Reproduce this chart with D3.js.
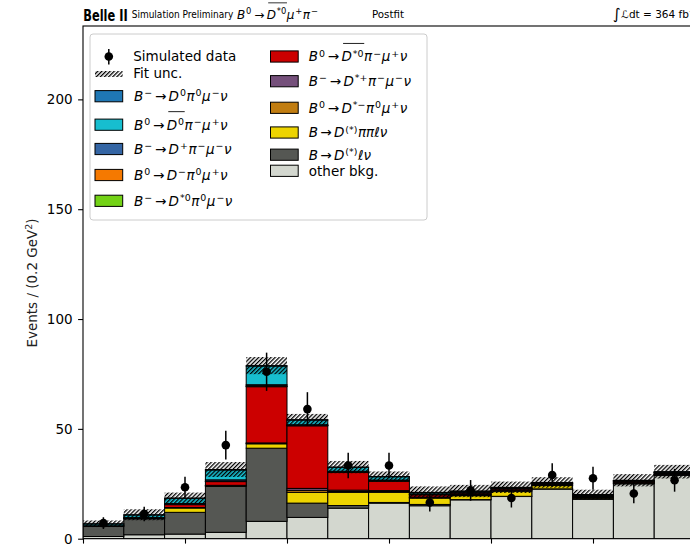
<!DOCTYPE html>
<html><head><meta charset="utf-8">
<script src="https://cdn.jsdelivr.net/npm/d3@7/dist/d3.min.js"></script>
<style>
body{margin:0;background:#fff}
svg{display:block}
text{font-family:"DejaVu Sans",sans-serif}
</style>
</head><body>
<svg id="c" width="690" height="544"></svg>
<script>
// ---------------- data ----------------
const binEdges = [0.0,0.2,0.4,0.6,0.8,1.0,1.2,1.4,1.6,1.8,2.0,2.2,2.4,2.6,2.8,3.0];
const yTicks = [0, 50, 100, 150, 200];
const xTicks = [0.0, 0.5, 1.0, 1.5, 2.0, 2.5, 3.0];

// stacked components, bottom to top
const otherBkg   = [1.0, 1.8, 2.1, 2.9, 7.9, 9.7, 13.9, 16.2, 15.0, 17.7, 19.2, 22.6, 18.0, 25.0, 28.9];
const dlnu       = [4.6, 7.3, 9.9, 20.9, 33.3, 6.5, 1.2, 0.3, 0.6, 0.1, 0.1, 0.1, 0.1, 0.1, 0.1];
const dpipilnu   = [0.0, 0.1, 2.0, 0.3, 2.0, 4.9, 6.0, 4.6, 2.9, 1.8, 2.3, 1.5, 0.5, 0.2, 0.2];
const dstmPi0    = [0.0, 0.0, 0.1, 0.1, 0.2, 0.9, 0.4, 0.4, 0.2, 0.3, 0.3, 0.2, 0.4, 0.2, 0.2];
const dstpPim    = [0.0, 0.0, 0.1, 0.1, 0.2, 0.9, 0.6, 0.4, 0.2, 0.2, 0.2, 0.2, 0.2, 0.2, 0.2];
const dst0barPim = [0.2, 0.3, 1.3, 1.7, 25.6, 28.5, 8.1, 4.3, 1.1, 0.7, 0.6, 0.4, 0.4, 0.4, 0.4];
const dst0Pi0    = [0.0, 0.0, 0.1, 0.1, 0.2, 0.1, 0.1, 0.1, 0.1, 0.1, 0.1, 0.1, 0.1, 0.1, 0.1];
const dmPi0      = [0.0, 0.0, 0.1, 0.1, 0.2, 0.1, 0.1, 0.1, 0.1, 0.1, 0.1, 0.1, 0.1, 0.1, 0.1];
const dpPim      = [0.1, 0.1, 0.3, 0.6, 0.5, 0.3, 0.3, 0.3, 0.2, 0.2, 0.2, 0.2, 0.1, 0.1, 0.1];
const d0barPim   = [0.8, 1.2, 2.4, 4.5, 8.5, 2.1, 1.8, 1.5, 0.6, 0.4, 0.2, 0.1, 0.1, 0.1, 0.1];
const d0Pi0      = [0.1, 0.1, 0.1, 0.2, 0.2, 0.2, 0.1, 0.1, 0.1, 0.1, 0.1, 0.1, 0.1, 0.1, 0.1];

const fitUnc  = [1.5, 2.5, 2.5, 3.4, 3.9, 2.6, 2.8, 2.3, 2.7, 2.8, 2.6, 2.4, 2.2, 2.8, 3.1];
const simData = [7.1, 11.2, 23.4, 42.6, 76.0, 59.0, 33.3, 33.3, 16.5, 22.0, 18.5, 29.0, 27.5, 20.6, 26.6];
const simErr  = [2.7, 3.3, 4.8, 6.5, 8.7, 7.7, 5.8, 5.8, 4.1, 4.7, 4.3, 5.4, 5.2, 4.5, 5.2];

const compKeys   = ["otherBkg","dlnu","dpipilnu","dstmPi0","dstpPim","dst0barPim","dst0Pi0","dmPi0","dpPim","d0barPim","d0Pi0"];
const compValues = [otherBkg, dlnu, dpipilnu, dstmPi0, dstpPim, dst0barPim, dst0Pi0, dmPi0, dpPim, d0barPim, d0Pi0];
const compColors = ["#d3d7cf","#555753","#edd400","#c17d11","#75507b","#cc0000","#73d216","#f57900","#3465a4","#17becf","#1f77b4"];
const compLabels = ["other bkg.","B→D^{(*)}ℓν","B→D^{(*)}ππℓν","B^{0}→D^{*−}π^{0}μ^{+}ν","B^{−}→D^{*+}π^{−}μ^{−}ν",
  "B^{0}→~{D^{*0}}π^{−}μ^{+}ν","B^{−}→D^{*0}π^{0}μ^{−}ν","B^{0}→D^{−}π^{0}μ^{+}ν","B^{−}→D^{+}π^{−}μ^{−}ν",
  "B^{0}→~{D^{0}}π^{−}μ^{+}ν","B^{−}→D^{0}π^{0}μ^{−}ν"];

// ---------------- layout ----------------
const svg = d3.select("#c");
const L = 83, R = 695, T = 26, B = 538.7;
const x = d3.scaleLinear().domain([binEdges[0], binEdges[binEdges.length-1]]).range([L, R]);
const y = d3.scaleLinear().domain([0, 233.4]).range([B, T]);

const defs = svg.append("defs");
defs.append("clipPath").attr("id","clip").append("rect").attr("x",L).attr("y",T).attr("width",R-L).attr("height",B-T);
const pat = defs.append("pattern").attr("id","hatch").attr("patternUnits","userSpaceOnUse")
  .attr("width",2.9).attr("height",2.9).attr("patternTransform","rotate(45)");
pat.append("rect").attr("x",0).attr("y",0).attr("width",1.3).attr("height",2.9).attr("fill","#000");

// stack table
const table = simData.map((_, i) => {
  const row = {i};
  compKeys.forEach((k, j) => row[k] = compValues[j][i]);
  return row;
});
const series = d3.stack().keys(compKeys)(table);
const totals = table.map(r => compKeys.reduce((s,k)=>s+r[k],0));

const plot = svg.append("g").attr("clip-path","url(#clip)");
series.forEach((s, j) => {
  plot.append("g").selectAll("rect").data(s).join("rect")
    .attr("x", d => x(binEdges[d.data.i]))
    .attr("width", d => x(binEdges[d.data.i+1]) - x(binEdges[d.data.i]))
    .attr("y", d => y(d[1]))
    .attr("height", d => Math.max(0, y(d[0]) - y(d[1])))
    .attr("fill", compColors[j])
    .attr("stroke", "#000").attr("stroke-width", 1);
});

// fit uncertainty hatch
plot.append("g").selectAll("rect").data(totals).join("rect")
  .attr("x", (d,i) => x(binEdges[i]))
  .attr("width", (d,i) => x(binEdges[i+1]) - x(binEdges[i]))
  .attr("y", (d,i) => y(d + fitUnc[i]))
  .attr("height", (d,i) => y(d - fitUnc[i]) - y(d + fitUnc[i]))
  .attr("fill", "url(#hatch)");

// simulated data
const dg = plot.append("g");
dg.selectAll("line").data(simData).join("line")
  .attr("x1", (d,i) => x((binEdges[i]+binEdges[i+1])/2))
  .attr("x2", (d,i) => x((binEdges[i]+binEdges[i+1])/2))
  .attr("y1", (d,i) => y(d - simErr[i]))
  .attr("y2", (d,i) => y(d + simErr[i]))
  .attr("stroke","#000").attr("stroke-width",1.5);
dg.selectAll("circle").data(simData).join("circle")
  .attr("cx", (d,i) => x((binEdges[i]+binEdges[i+1])/2))
  .attr("cy", d => y(d))
  .attr("r", 4.3).attr("fill","#000");

// axes
const yAxis = svg.append("g").attr("transform",`translate(${L},0)`)
  .call(d3.axisLeft(y).tickValues(yTicks).tickSize(4.9).tickPadding(5.5).tickFormat(d3.format("d")));
yAxis.select(".domain").remove();
yAxis.selectAll("text").attr("font-size",13.5).attr("font-family","DejaVu Sans").attr("fill","#000");
yAxis.selectAll("line").attr("stroke-width",1.1);
const xAxis = svg.append("g").attr("transform",`translate(0,${B})`)
  .call(d3.axisBottom(x).tickValues(xTicks).tickSize(4.9).tickFormat(""));
xAxis.select(".domain").remove();
xAxis.selectAll("line").attr("stroke-width",1.1);
svg.append("rect").attr("x",L).attr("y",T).attr("width",R-L).attr("height",B-T)
  .attr("fill","none").attr("stroke","#000").attr("stroke-width",1.1);

// y label
const yl = svg.append("text").attr("transform","translate(36.5,283) rotate(-90)")
  .attr("text-anchor","middle").attr("font-size",13.5).attr("fill","#222");
yl.append("tspan").text("Events / (0.2 GeV");
yl.append("tspan").attr("font-size",9.5).attr("dy",-5).text("2");
yl.append("tspan").attr("dy",5).text(")");

// ---------------- math text helper ----------------
function parseMath(str) {
  const segs = [];
  let ovId = 0;
  function parse(s, sup, ov) {
    let i = 0;
    while (i < s.length) {
      const c = s[i];
      if ((c === "^" || c === "~") && s[i+1] === "{") {
        let depth = 1, j = i + 2;
        while (j < s.length && depth > 0) { if (s[j]==="{") depth++; else if (s[j]==="}") depth--; j++; }
        const inner = s.slice(i+2, j-1);
        if (c === "^") parse(inner, true, ov); else parse(inner, sup, ++ovId);
        i = j;
      } else {
        segs.push({t: c, it: /[A-Za-zπμνℓℒ]/.test(c), sup, ov});
        i++;
      }
    }
  }
  parse(str, false, 0);
  return segs;
}
function mathText(parent, str, px, py, fs, opts) {
  opts = opts || {};
  const t = parent.append("text").attr("x", px).attr("y", py).attr("font-size", fs).attr("fill","#000");
  if (opts.family) t.attr("font-family", opts.family);
  const segs = parseMath(str);
  const plain = !/[\^~→]/.test(str);
  if (plain) { t.text(str); return t; }
  const arrowSp = opts.arrowSp != null ? opts.arrowSp : 0.17;
  let curSup = false; const shift = fs * 0.36; const ovs = {};
  let prevArrow = false;
  segs.forEach((sg, idx) => {
    const ts = t.append("tspan").text(sg.t);
    ts.attr("font-style", sg.it ? "italic" : "normal");
    let dy = 0;
    if (sg.sup && !curSup) dy = -shift;
    if (!sg.sup && curSup) dy = shift;
    if (dy) ts.attr("dy", dy);
    if (sg.sup) ts.attr("font-size", fs * 0.7);
    let dx = 0;
    if (sg.t === "→") dx += fs * arrowSp;
    if (prevArrow) dx += fs * arrowSp;
    const prev = segs[idx-1];
    if (sg.sup && !curSup && prev && prev.it) dx += fs * 0.07;
    if (!sg.sup && curSup) dx += fs * 0.04;
    if (dx) ts.attr("dx", dx);
    curSup = sg.sup;
    prevArrow = sg.t === "→";
    if (sg.ov) { (ovs[sg.ov] = ovs[sg.ov] || []).push(idx); }
  });
  const node = t.node();
  Object.values(ovs).forEach(list => {
    const x1 = node.getStartPositionOfChar(list[0]).x;
    const x2 = node.getEndPositionOfChar(list[list.length-1]).x;
    parent.append("line").attr("x1", x1 + fs*0.12).attr("x2", x2 + fs*0.05)
      .attr("y1", py - fs*1.33).attr("y2", py - fs*1.33)
      .attr("stroke","#000").attr("stroke-width", Math.max(0.8, fs*0.065));
  });
  return t;
}

// ---------------- header ----------------
svg.append("text").attr("x",83.3).attr("y",20.7).attr("font-family","Liberation Sans").attr("font-weight","bold")
  .attr("font-size",15).attr("textLength",44.4).attr("lengthAdjust","spacingAndGlyphs").text("Belle II");
svg.append("text").attr("x",131.7).attr("y",18.4).attr("font-family","Liberation Sans")
  .attr("font-size",11).attr("textLength",101.6).attr("lengthAdjust","spacingAndGlyphs").text("Simulation Preliminary");
mathText(svg, "B^{0}→~{D^{*0}}μ^{+}π^{−}", 237, 18.8, 12, {family:"DejaVu Sans", arrowSp:0.2});
svg.append("text").attr("x",372).attr("y",18.4).attr("font-family","Liberation Sans")
  .attr("font-size",11).attr("textLength",32).attr("lengthAdjust","spacingAndGlyphs").text("Postfit");
const lum = svg.append("text").attr("x",613).attr("y",18.4).attr("font-family","Liberation Sans").attr("font-size",10.5);
lum.append("tspan").attr("font-size",15).attr("dy",1).attr("font-family","DejaVu Sans").text("∫");
lum.append("tspan").attr("dy",-1).attr("font-style","italic").attr("dx",0.5).text("ℒ");
lum.append("tspan").text("dt = 364 fb");
lum.append("tspan").attr("font-size",7.5).attr("dy",-4).text("−1");

// ---------------- legend ----------------
const lg = svg.append("g");
lg.append("rect").attr("x",90).attr("y",34).attr("width",337).attr("height",186).attr("rx",3)
  .attr("fill","#fff").attr("fill-opacity",0.8).attr("stroke","#cccccc").attr("stroke-width",1);
const FS = 13.5;
// data marker entry
lg.append("line").attr("x1",108.8).attr("x2",108.8).attr("y1",49).attr("y2",64.5).attr("stroke","#000").attr("stroke-width",1.5);
lg.append("circle").attr("cx",108.8).attr("cy",56.5).attr("r",4.3).attr("fill","#000");
mathText(lg, "Simulated data", 133.3, 61.3, FS);
// fit unc entry
lg.append("rect").attr("x",95).attr("y",71).attr("width",27.7).attr("height",6).attr("fill","url(#hatch)");
mathText(lg, "Fit unc.", 133.3, 78.3, FS);

// order of legend entries (index into components), with box centre y
const legendCol1 = [10, 9, 8, 7, 6];
const legendCol1Y = [96.2, 124.7, 149.0, 175.0, 200.8];
const legendCol2 = [5, 4, 3, 2, 1, 0];
const legendCol2Y = [56.5, 81.2, 107.8, 132.5, 154.7, 170.8];
function legendEntry(ci, bx, tx, cy) {
  lg.append("rect").attr("x",bx).attr("y",cy-5.6).attr("width",27.7).attr("height",11.2)
    .attr("fill",compColors[ci]).attr("stroke","#000").attr("stroke-width",1);
  mathText(lg, compLabels[ci], tx, cy + 4.9, FS);
}
legendCol1.forEach((ci, k) => legendEntry(ci, 95, 134, legendCol1Y[k]));
legendCol2.forEach((ci, k) => legendEntry(ci, 270.5, 308.8, legendCol2Y[k]));
</script>
</body></html>
